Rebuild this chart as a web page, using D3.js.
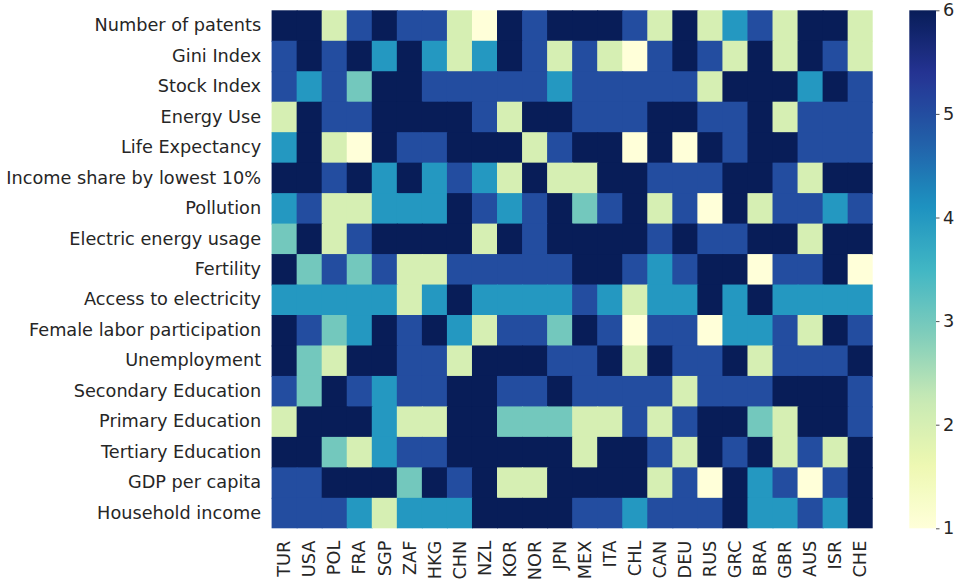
<!DOCTYPE html>
<html>
<head>
<meta charset="utf-8">
<script src="https://cdn.jsdelivr.net/npm/d3@7"></script>
<style>
  html, body { margin: 0; padding: 0; background: #ffffff; }
  svg { display: block; }
  text { font-family: "DejaVu Sans", sans-serif; fill: #262626; }
</style>
</head>
<body>
<svg id="chart" width="963" height="582"></svg>
<script>
// Countries along the x axis
const countries = ["TUR","USA","POL","FRA","SGP","ZAF","HKG","CHN","NZL","KOR","NOR","JPN",
                   "MEX","ITA","CHL","CAN","DEU","RUS","GRC","BRA","GBR","AUS","ISR","CHE"];

// Indicators down the y axis
const indicators = ["Number of patents","Gini Index","Stock Index","Energy Use","Life Expectancy",
  "Income share by lowest 10%","Pollution","Electric energy usage","Fertility","Access to electricity",
  "Female labor participation","Unemployment","Secondary Education","Primary Education",
  "Tertiary Education","GDP per capita","Household income"];

// Scores (1-6), one row per indicator, one column per country
const numberOfPatents     = [6,6,2,5,6,5,5,2,1,6,5,6,6,6,5,2,6,2,4,5,2,6,6,2];
const giniIndex           = [5,6,5,6,4,6,4,2,4,6,5,2,5,2,1,5,6,5,2,6,2,6,5,2];
const stockIndex          = [5,4,5,3,6,6,5,5,5,5,5,4,5,5,5,5,5,2,6,6,6,4,6,5];
const energyUse           = [2,6,5,5,6,6,6,6,5,2,6,6,5,5,5,6,6,5,5,6,2,5,5,5];
const lifeExpectancy      = [4,6,2,1,6,5,5,6,6,6,2,5,6,6,1,6,1,6,5,6,6,5,5,5];
const incomeShareLowest10 = [6,6,5,6,4,6,4,5,4,2,6,2,2,6,6,5,5,5,6,6,5,2,6,6];
const pollution           = [4,5,2,2,4,4,4,6,5,4,5,6,3,5,6,2,5,1,6,2,5,5,4,5];
const electricEnergyUsage = [3,6,2,5,6,6,6,6,2,6,5,6,6,6,6,5,6,5,5,6,6,2,6,6];
const fertility           = [6,3,5,3,5,2,2,5,5,5,5,5,6,6,5,4,5,6,6,1,5,5,6,1];
const accessToElectricity = [4,4,4,4,4,2,4,6,4,4,4,4,5,4,2,4,4,6,4,6,4,4,4,4];
const femaleLabor         = [6,5,3,4,6,5,6,4,2,5,5,3,6,5,1,5,5,1,4,4,5,2,6,5];
const unemployment        = [6,3,2,6,6,5,5,2,6,6,6,5,5,6,2,6,5,5,6,2,5,5,5,6];
const secondaryEducation  = [5,3,6,5,4,5,5,6,6,5,5,6,5,5,5,5,2,5,5,5,6,6,6,5];
const primaryEducation    = [2,6,6,6,4,2,2,6,6,3,3,3,2,2,5,2,5,6,6,3,2,6,6,5];
const tertiaryEducation   = [6,6,3,2,4,5,5,6,6,6,6,6,2,6,6,5,2,6,5,6,2,5,2,6];
const gdpPerCapita        = [5,5,6,6,6,3,6,5,6,2,2,6,6,6,6,2,5,1,6,4,5,1,5,6];
const householdIncome     = [5,5,5,4,2,4,4,4,6,6,6,6,5,5,4,5,5,5,6,4,4,5,4,6];

const rows = [numberOfPatents, giniIndex, stockIndex, energyUse, lifeExpectancy,
  incomeShareLowest10, pollution, electricEnergyUsage, fertility, accessToElectricity,
  femaleLabor, unemployment, secondaryEducation, primaryEducation, tertiaryEducation,
  gdpPerCapita, householdIncome];

// Colour bar ticks
const colorbarTicks = [1, 2, 3, 4, 5, 6];

// YlGnBu stops, linearly interpolated over the value range
const ylgnbu = ["#ffffd9","#edf8b1","#c7e9b4","#7fcdbb","#41b6c4","#1d91c0","#225ea8","#253494","#081d58"];
const vmin = 1, vmax = 6;
const color = d3.scaleLinear()
  .domain(ylgnbu.map((_, i) => vmin + (vmax - vmin) * i / (ylgnbu.length - 1)))
  .range(ylgnbu)
  .interpolate(d3.interpolateRgb)
  .clamp(true);

const svg = d3.select("#chart");
const plot = { left: 271.6, right: 872.7, top: 10.3, bottom: 528.3 };

const x = d3.scaleBand().domain(countries).range([plot.left, plot.right]).padding(0);
const y = d3.scaleBand().domain(indicators).range([plot.top, plot.bottom]).padding(0);

const cells = [];
rows.forEach((vals, r) => vals.forEach((v, c) => cells.push({ r, c, ind: indicators[r], country: countries[c], v })));

// Cells overlap their right/bottom neighbour slightly so no hairline seams show
const lastCol = countries.length - 1, lastRow = indicators.length - 1;
svg.append("g").selectAll("rect").data(cells).join("rect")
  .attr("x", d => x(d.country))
  .attr("y", d => y(d.ind))
  .attr("width", d => x.bandwidth() + (d.c < lastCol ? 1 : 0))
  .attr("height", d => y.bandwidth() + (d.r < lastRow ? 1 : 0))
  .attr("fill", d => color(d.v));

const fontSize = 17.7;

// Row labels
const yAxis = svg.append("g")
  .attr("transform", `translate(${plot.left},0)`)
  .call(d3.axisLeft(y).tickSize(0).tickPadding(10.5));
yAxis.select(".domain").remove();
yAxis.selectAll("text")
  .style("font-size", fontSize + "px")
  .style("font-family", "'DejaVu Sans', sans-serif")
  .attr("fill", "#262626");

// Column labels, rotated
const xAxis = svg.append("g")
  .attr("transform", `translate(0,${plot.bottom})`)
  .call(d3.axisBottom(x).tickSize(0).tickPadding(0));
xAxis.select(".domain").remove();
xAxis.selectAll("text")
  .style("font-size", fontSize + "px")
  .style("font-family", "'DejaVu Sans', sans-serif")
  .attr("fill", "#262626")
  .attr("transform", "rotate(-90)")
  .attr("x", -12.4)
  .attr("y", 0)
  .attr("dy", "0.35em")
  .attr("text-anchor", "end");

// Colour bar
const cb = { x: 909.3, width: 26.7 };
const cbScale = d3.scaleLinear().domain([vmin, vmax]).range([plot.bottom, plot.top]);

const defs = svg.append("defs");
const grad = defs.append("linearGradient")
  .attr("id", "cbgrad").attr("x1", 0).attr("y1", 1).attr("x2", 0).attr("y2", 0);
grad.selectAll("stop").data(d3.range(0, 1.0001, 0.02)).join("stop")
  .attr("offset", t => t)
  .attr("stop-color", t => color(vmin + t * (vmax - vmin)));

svg.append("rect")
  .attr("x", cb.x)
  .attr("y", cbScale(vmax))
  .attr("width", cb.width)
  .attr("height", cbScale(vmin) - cbScale(vmax))
  .attr("fill", "url(#cbgrad)");

const cbAxis = svg.append("g")
  .attr("transform", `translate(${cb.x + cb.width},0)`)
  .call(d3.axisRight(cbScale).tickValues(colorbarTicks).tickFormat(d3.format("d")).tickSize(3.5).tickPadding(3.5));
cbAxis.select(".domain").remove();
cbAxis.selectAll("line").attr("stroke", "#262626").attr("stroke-width", 0.8);
cbAxis.selectAll("text")
  .style("font-size", fontSize + "px")
  .style("font-family", "'DejaVu Sans', sans-serif")
  .attr("fill", "#262626");
</script>
</body>
</html>
